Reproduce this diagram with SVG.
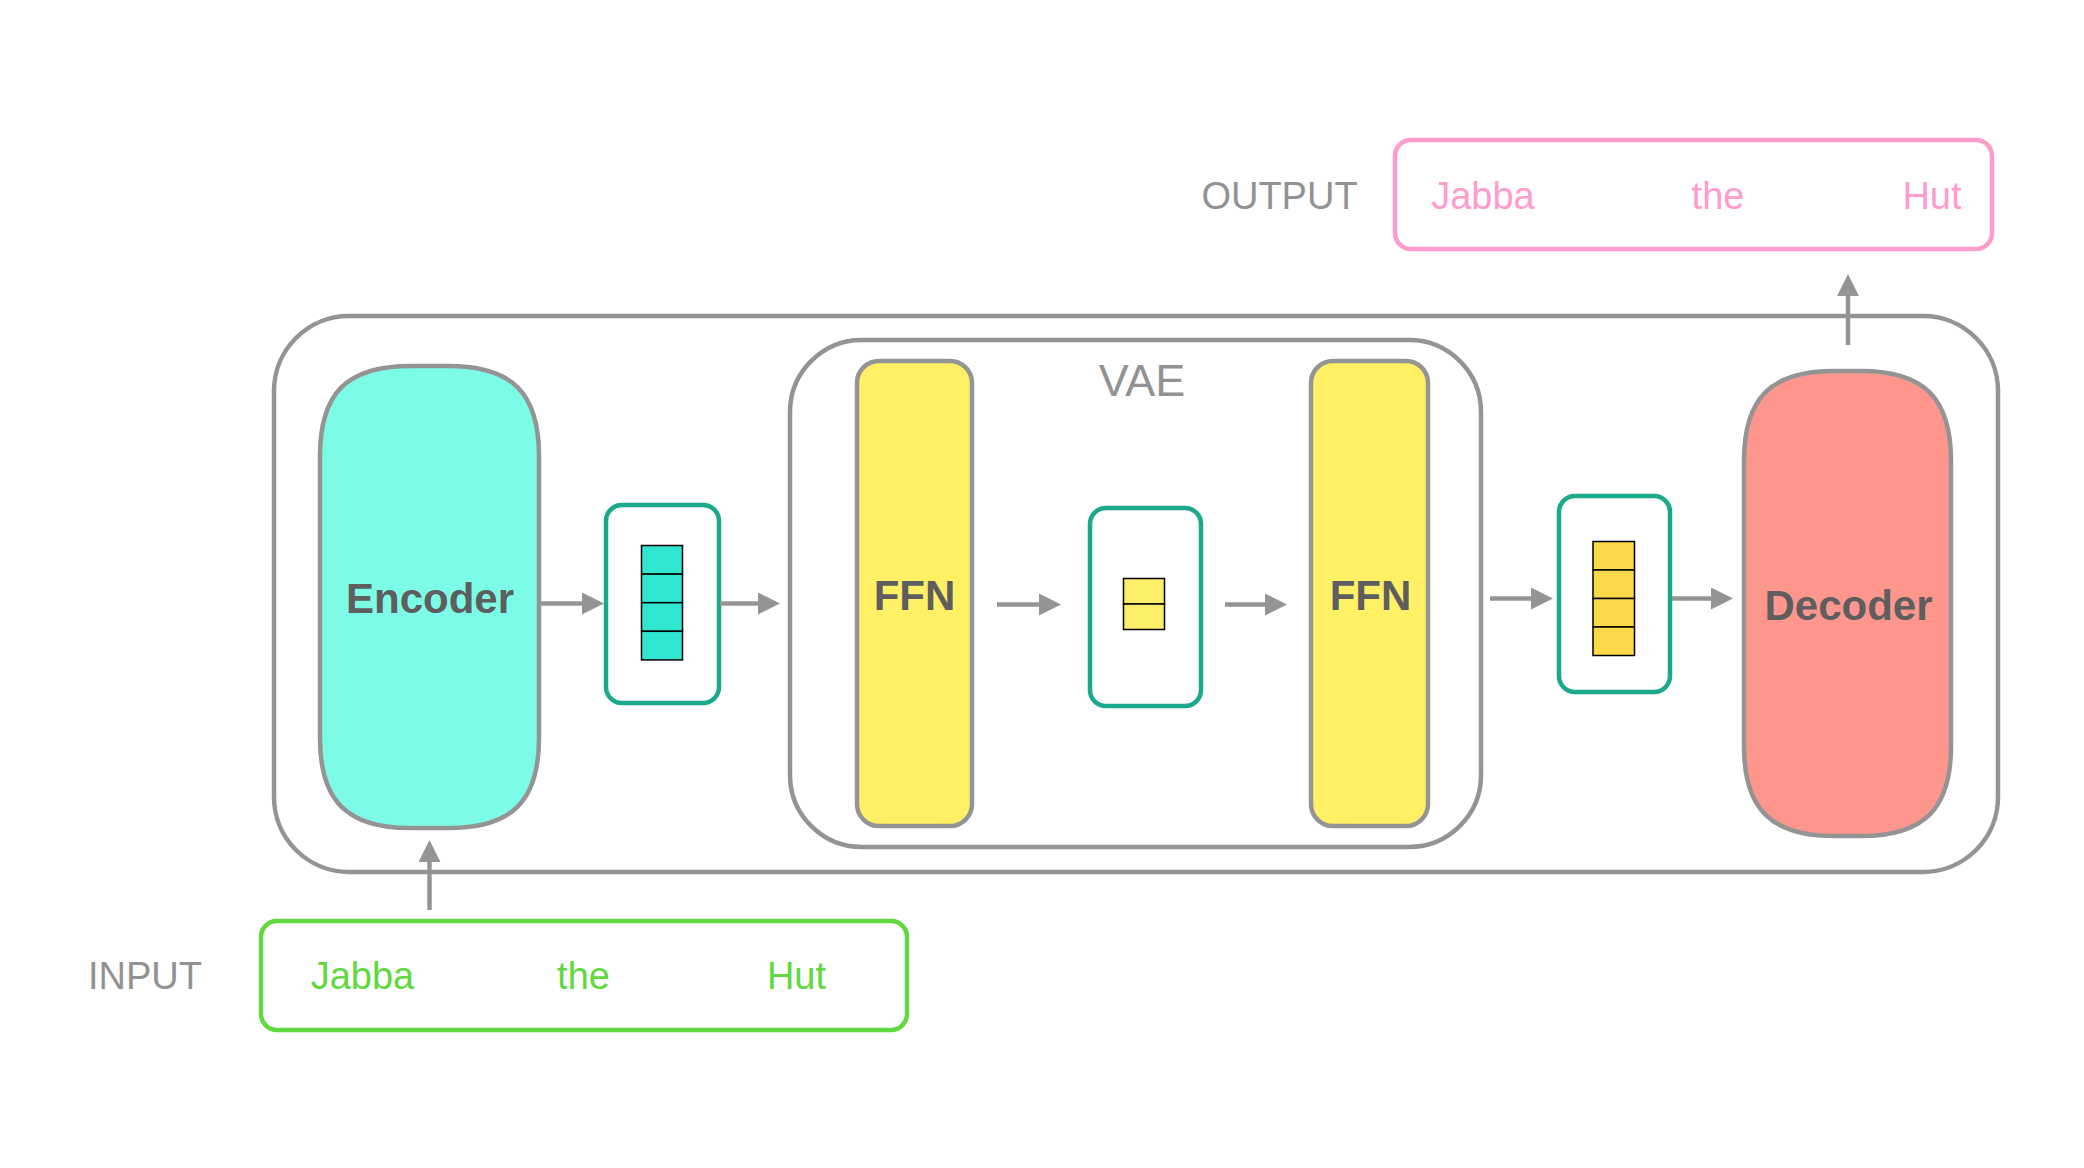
<svg xmlns="http://www.w3.org/2000/svg" width="2084" height="1168" viewBox="0 0 2084 1168">
  <style>
    .frame { fill: #ffffff; stroke: #949494; stroke-width: 4.5; }
    .vec { fill: #ffffff; stroke: #1aa98a; stroke-width: 4.5; }
    .cell { stroke: #000000; stroke-width: 1.5; }
    .conn { stroke: #949494; stroke-width: 4.5; fill: none; marker-end: url(#ah); }
    .bold { font-family: "Liberation Sans", Arial, sans-serif; font-weight: bold; fill: #5e5e5e; text-anchor: middle; }
    .lbl { font-family: "Liberation Sans", Arial, sans-serif; fill: #929292; text-anchor: middle; }
    .pink { font-family: "Liberation Sans", Arial, sans-serif; fill: #ff9ccd; text-anchor: middle; font-size: 38px; }
    .green { font-family: "Liberation Sans", Arial, sans-serif; fill: #61d83f; text-anchor: middle; font-size: 38px; }
  </style>
  <defs>
    <marker id="ah" markerUnits="userSpaceOnUse" markerWidth="22" markerHeight="22" refX="14" refY="11" orient="auto">
      <path d="M0,0 L22,11 L0,22 z" fill="#949494"/>
    </marker>
  </defs>
  <rect width="2084" height="1168" fill="#ffffff"/>

  <g id="outer">
    <rect class="frame" x="274" y="316" width="1724" height="556" rx="75" ry="75"/>
  </g>

  <g id="output">
    <text class="lbl" x="1279.5" y="209" font-size="38">OUTPUT</text>
    <rect x="1395" y="140" width="597" height="109" rx="16" ry="16" fill="#ffffff" stroke="#ff9ccd" stroke-width="4.5"/>
    <text class="pink" x="1483" y="208.5">Jabba</text>
    <text class="pink" x="1718" y="208.5">the</text>
    <text class="pink" x="1932" y="208.5">Hut</text>
  </g>

  <g id="input">
    <text class="lbl" x="145" y="989" font-size="38">INPUT</text>
    <rect x="261" y="921" width="646" height="109" rx="16" ry="16" fill="#ffffff" stroke="#61d83f" stroke-width="4.5"/>
    <text class="green" x="362.5" y="989">Jabba</text>
    <text class="green" x="583.5" y="989">the</text>
    <text class="green" x="796.5" y="989">Hut</text>
  </g>

  <g id="encoder">
    <path d="M410,366 H449 C512,366 539,393 539,456 V738 C539,801 512,828 449,828 H410 C347,828 320,801 320,738 V456 C320,393 347,366 410,366 Z" fill="#7cfce6" stroke="#949494" stroke-width="4.5"/>
    <text class="bold" x="430" y="613" font-size="42">Encoder</text>
  </g>

  <g id="vec1">
    <rect class="vec" x="606" y="505" width="113" height="198" rx="16" ry="16"/>
    <rect class="cell" x="641.5" y="545.5" width="41" height="28.6" fill="#30e6d0"/>
    <rect class="cell" x="641.5" y="574.1" width="41" height="28.6" fill="#30e6d0"/>
    <rect class="cell" x="641.5" y="602.7" width="41" height="28.6" fill="#30e6d0"/>
    <rect class="cell" x="641.5" y="631.3" width="41" height="28.6" fill="#30e6d0"/>
  </g>

  <g id="vae">
    <rect class="frame" x="790" y="340" width="691" height="507" rx="72" ry="72"/>
    <text class="lbl" x="1142" y="396" font-size="45">VAE</text>
  </g>

  <g id="ffn1">
    <rect x="857" y="361" width="115" height="465" rx="22" ry="22" fill="#fff066" stroke="#949494" stroke-width="4.5"/>
    <text class="bold" x="914.5" y="610" font-size="42">FFN</text>
  </g>

  <g id="latent">
    <rect class="vec" x="1090" y="508" width="111" height="198" rx="16" ry="16"/>
    <rect class="cell" x="1123.5" y="578.5" width="41" height="25.5" fill="#fdef68"/>
    <rect class="cell" x="1123.5" y="604" width="41" height="25.5" fill="#fdef68"/>
  </g>

  <g id="ffn2">
    <rect x="1311" y="361" width="117" height="465" rx="22" ry="22" fill="#fff066" stroke="#949494" stroke-width="4.5"/>
    <text class="bold" x="1370.5" y="610" font-size="42">FFN</text>
  </g>

  <g id="vec3">
    <rect class="vec" x="1559" y="496" width="111" height="196" rx="16" ry="16"/>
    <rect class="cell" x="1593" y="541.5" width="41.5" height="28.5" fill="#fed84b"/>
    <rect class="cell" x="1593" y="570" width="41.5" height="28.5" fill="#fed84b"/>
    <rect class="cell" x="1593" y="598.5" width="41.5" height="28.5" fill="#fed84b"/>
    <rect class="cell" x="1593" y="627" width="41.5" height="28.5" fill="#fed84b"/>
  </g>

  <g id="decoder">
    <path d="M1834,371 H1861 C1924,371 1951,398 1951,461 V746 C1951,809 1924,836 1861,836 H1834 C1771,836 1744,809 1744,746 V461 C1744,398 1771,371 1834,371 Z" fill="#fe968d" stroke="#949494" stroke-width="4.5"/>
    <text class="bold" x="1848.5" y="620" font-size="42">Decoder</text>
  </g>

  <g id="connectors">
    <line class="conn" x1="541" y1="603.5" x2="596" y2="603.5"/>
    <line class="conn" x1="720" y1="603.5" x2="772" y2="603.5"/>
    <line class="conn" x1="997" y1="604.5" x2="1053" y2="604.5"/>
    <line class="conn" x1="1225" y1="604.5" x2="1279" y2="604.5"/>
    <line class="conn" x1="1490" y1="598.5" x2="1545" y2="598.5"/>
    <line class="conn" x1="1672" y1="598.5" x2="1725" y2="598.5"/>
    <line class="conn" x1="1848" y1="345" x2="1848" y2="282"/>
    <line class="conn" x1="429.5" y1="910" x2="429.5" y2="848"/>
  </g>
</svg>
